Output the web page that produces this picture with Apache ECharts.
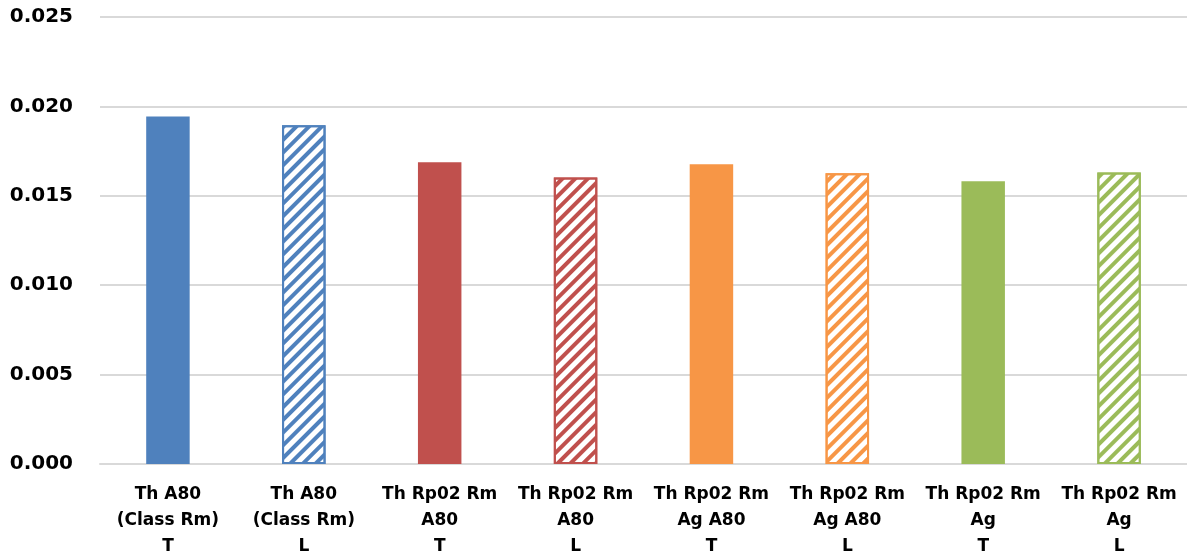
<!DOCTYPE html>
<html><head><meta charset="utf-8">
<script src="https://cdn.jsdelivr.net/npm/echarts@6/dist/echarts.min.js"></script>
<style>html,body{margin:0;padding:0;background:#fff}#c{width:1187px;height:557px}</style>
</head><body><div id="c"></div>
<script>
const categories = ['Th A80\n(Class Rm)\nT','Th A80\n(Class Rm)\nL','Th Rp02 Rm\nA80\nT','Th Rp02 Rm\nA80\nL','Th Rp02 Rm\nAg A80\nT','Th Rp02 Rm\nAg A80\nL','Th Rp02 Rm\nAg\nT','Th Rp02 Rm\nAg\nL'];
const values = [0.01944, 0.01894, 0.01687, 0.01603, 0.01676, 0.01626, 0.01581, 0.01631];
const colors = ['#4F81BD','#4F81BD','#C0504D','#C0504D','#F79646','#F79646','#9BBB59','#9BBB59'];
const hatched = [false,true,false,true,false,true,false,true];
const yTicks = [0, 0.005, 0.010, 0.015, 0.020, 0.025];

const data = values.map((v,i)=>({
  value: v,
  itemStyle: hatched[i]
    ? {color:'#fff', borderColor:colors[i], borderWidth:2,
       decal:{symbol:'rect', color:colors[i], dashArrayX:[1,0], dashArrayY:[3.5,5], rotation:-Math.PI/4}}
    : {color:colors[i]}
}));

const chart = echarts.init(document.getElementById('c'));
chart.setOption({
  animation:false,
  grid:{left:100, right:0, top:17, bottom:93, outerBoundsMode:'none', containLabel:false},
  xAxis:{type:'category', data:categories,
    axisLine:{show:true, lineStyle:{color:'#d9d9d9', width:2}},
    axisTick:{show:false},
    axisLabel:{interval:0, color:'#000', fontFamily:'DejaVu Sans', fontWeight:'bold', fontSize:17, lineHeight:26, margin:18}
  },
  yAxis:{type:'value', min:yTicks[0], max:yTicks[yTicks.length-1], interval:0.005,
    axisLine:{show:false}, axisTick:{show:false},
    splitLine:{lineStyle:{color:'#d9d9d9', width:2}},
    axisLabel:{color:'#000', fontFamily:'DejaVu Sans', fontWeight:'bold', fontSize:20, margin:27,
      formatter:v=>v.toFixed(3)}
  },
  series:[{type:'bar', data:data, barWidth:'32%'}]
});
</script></body></html>
